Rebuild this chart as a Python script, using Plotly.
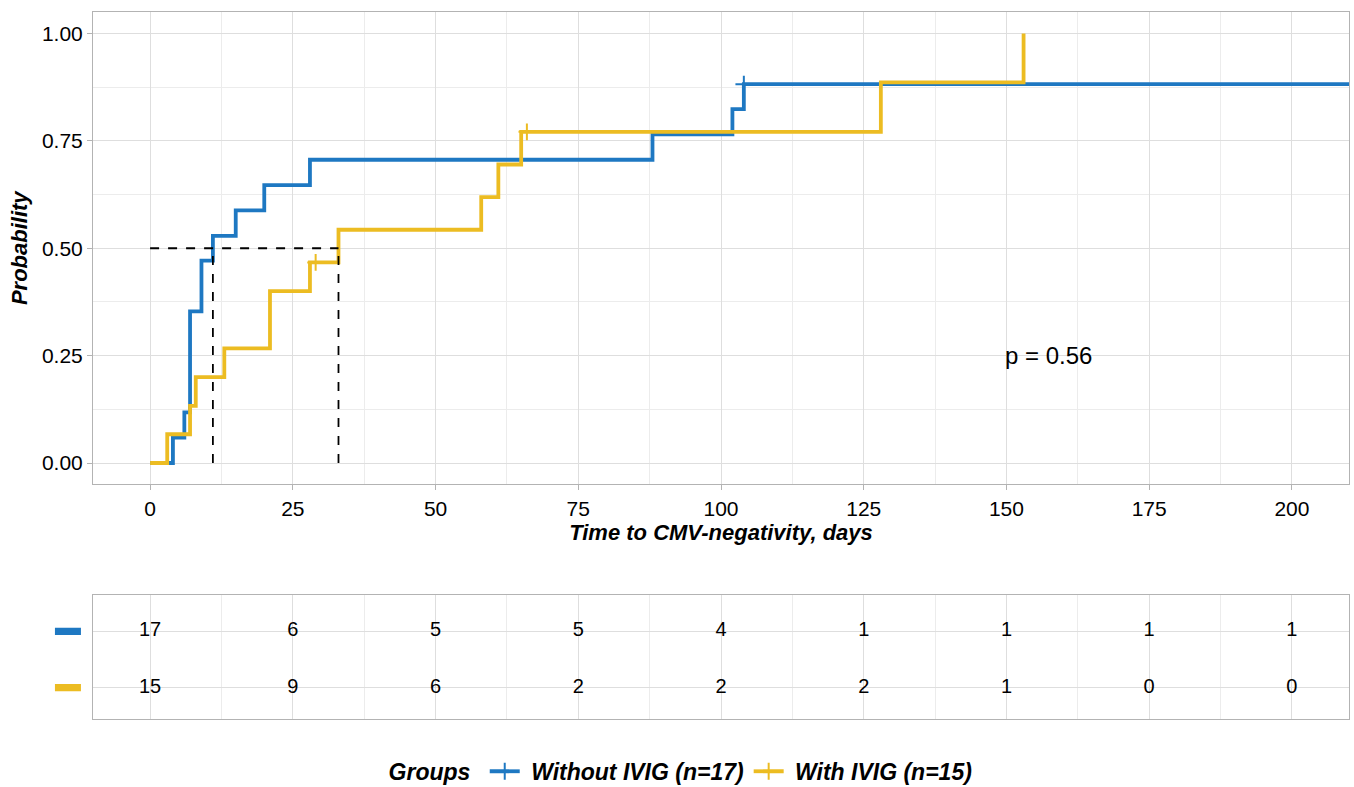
import plotly.graph_objects as go

# ---------------- data ----------------
groups = ["Without IVIG (n=17)", "With IVIG (n=15)"]
colors = ["#1E78C2", "#ECBC22"]

# cumulative event probability steps
blue_t = [0, 4, 6, 7, 9, 11, 15, 20, 28, 88, 102, 104, 215]
blue_p = [0.000, 0.059, 0.118, 0.353, 0.471, 0.529, 0.588, 0.647, 0.706, 0.765, 0.824, 0.882, 0.882]
blue_cens_t = [104]
blue_cens_p = [0.882]

yel_t = [0, 3, 7, 8, 13, 21, 28, 33, 58, 61, 65, 128, 153]
yel_p = [0.000, 0.067, 0.133, 0.200, 0.267, 0.400, 0.467, 0.543, 0.619, 0.695, 0.771, 0.886, 1.000]
yel_cens_t = [29, 66]
yel_cens_p = [0.467, 0.771]

median_level = 0.5
medians = [11, 33]

pval_text = "p = 0.56"
pval_x, pval_y = 150, 0.25

risk_times = [0, 25, 50, 75, 100, 125, 150, 175, 200]
risk_blue = [17, 6, 5, 5, 4, 1, 1, 1, 1]
risk_yel = [15, 9, 6, 2, 2, 2, 1, 0, 0]

x_ticks = [0, 25, 50, 75, 100, 125, 150, 175, 200]
y_ticks = [0, 0.25, 0.5, 0.75, 1.0]

FONT = "Liberation Sans, Arial, sans-serif"
BORDER = "#B3B3B3"
GRID = "#DEDEDE"
MINOR = "#ECECEC"
LW = 3.8

fig = go.Figure()

curves = [(blue_t, blue_p, blue_cens_t, blue_cens_p), (yel_t, yel_p, yel_cens_t, yel_cens_p)]
for i, (t, p, ct, cp) in enumerate(curves):
    fig.add_trace(go.Scatter(
        x=t, y=p, mode="lines", line=dict(color=colors[i], width=LW, shape="hv"),
        name=groups[i], legendgroup=groups[i], showlegend=False, hoverinfo="skip",
        xaxis="x", yaxis="y"))
    fig.add_trace(go.Scatter(
        x=ct, y=cp, mode="markers",
        marker=dict(symbol="cross-thin", size=12, color=colors[i],
                    line=dict(color=colors[i], width=2)),
        name=groups[i], legendgroup=groups[i], showlegend=False, hoverinfo="skip",
        xaxis="x", yaxis="y"))
    # legend entry (line + cross)
    fig.add_trace(go.Scatter(
        x=[None], y=[None], mode="lines+markers",
        line=dict(color=colors[i], width=LW),
        marker=dict(symbol="cross-thin", size=12, color=colors[i],
                    line=dict(color=colors[i], width=2)),
        name=" <b><i>" + groups[i] + "</i></b>", legendgroup=groups[i], showlegend=True,
        xaxis="x", yaxis="y"))

# median dashed lines
fig.add_trace(go.Scatter(
    x=[0, max(medians)], y=[median_level, median_level], mode="lines",
    line=dict(color="black", width=1.8, dash="dash"), showlegend=False, hoverinfo="skip"))
for m in medians:
    fig.add_trace(go.Scatter(
        x=[m, m], y=[0, median_level], mode="lines",
        line=dict(color="black", width=1.8, dash="dash"), showlegend=False, hoverinfo="skip"))

# p-value
fig.add_annotation(x=pval_x, y=pval_y, xref="x", yref="y", text=pval_text, showarrow=False,
                   xanchor="left", yanchor="middle", xshift=-3,
                   font=dict(family=FONT, size=24, color="black"))

# risk table
for row, counts in [(2, risk_blue), (1, risk_yel)]:
    fig.add_trace(go.Scatter(
        x=risk_times, y=[row] * len(risk_times), mode="text",
        text=[str(c) for c in counts], textposition="middle center",
        textfont=dict(family=FONT, size=20, color="black"),
        showlegend=False, hoverinfo="skip", xaxis="x2", yaxis="y2"))

# coloured strata bars in table y-axis
for row, col in [(2, colors[0]), (1, colors[1])]:
    fig.add_shape(type="rect", xref="paper", yref="y2",
                  x0=-0.0303, x1=-0.0096, y0=row - 0.065, y1=row + 0.065,
                  fillcolor=col, line=dict(width=0))

axis_common = dict(
    showline=True, mirror=True, linecolor=BORDER, linewidth=1,
    gridcolor=GRID, gridwidth=1, zeroline=False,
    ticks="outside", tickcolor=BORDER, ticklen=5, tickwidth=1,
    tickfont=dict(family=FONT, size=21, color="black"),
)

fig.update_layout(
    width=1354, height=787,
    paper_bgcolor="white", plot_bgcolor="white",
    margin=dict(l=93, r=5, t=12, b=68, autoexpand=False),
    font=dict(family=FONT, color="black"),
    xaxis=dict(axis_common, domain=[0, 1], range=[-10, 210], tickvals=x_ticks,
               anchor="y", automargin=False,
               minor=dict(dtick=12.5, tick0=0, gridcolor=MINOR, gridwidth=1, showgrid=True),
               title=dict(text="<b><i>Time to CMV-negativity, days</i></b>",
                          font=dict(family=FONT, size=22, color="black"), standoff=0)),
    yaxis=dict(axis_common, domain=[0.3317, 1], range=[-0.05, 1.05], tickvals=y_ticks,
               tickformat=".2f", anchor="x", automargin=False,
               minor=dict(dtick=0.125, tick0=0, gridcolor=MINOR, gridwidth=1, showgrid=True),
               title=dict(text="<b><i>Probability</i></b>",
                          font=dict(family=FONT, size=22, color="black"), standoff=8)),
    xaxis2=dict(showline=True, mirror=True, linecolor=BORDER, linewidth=1,
                gridcolor=GRID, gridwidth=1, zeroline=False,
                domain=[0, 1], range=[-10, 210], tickvals=x_ticks, showticklabels=False,
                ticks="", anchor="y2", automargin=False,
                minor=dict(dtick=12.5, tick0=0, gridcolor=MINOR, gridwidth=1, showgrid=True)),
    yaxis2=dict(showline=True, mirror=True, linecolor=BORDER, linewidth=1,
                gridcolor=GRID, gridwidth=1, zeroline=False,
                domain=[0, 0.1747], range=[0.44, 2.64], tickvals=[1, 2], showticklabels=False,
                ticks="", anchor="x2", automargin=False),
    legend=dict(orientation="h", xref="paper", yref="paper", x=0.469, y=-0.074,
                xanchor="center", yanchor="middle",
                title=dict(text="<b><i>Groups</i></b> ", font=dict(family=FONT, size=23, color="black")),
                font=dict(family=FONT, size=23, color="black"),
                itemwidth=30, bgcolor="rgba(0,0,0,0)"),
    showlegend=True,
)

fig.write_html(
    "out.html",
    config={"displayModeBar": False},
    post_script="document.body.style.margin='0';document.body.style.padding='0';"
                "document.documentElement.style.overflow='hidden';",
)
